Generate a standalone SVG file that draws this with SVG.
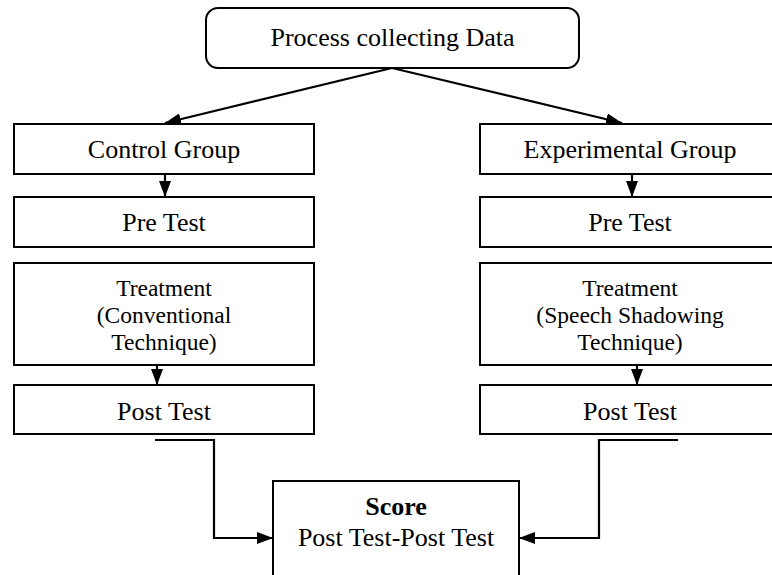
<svg xmlns="http://www.w3.org/2000/svg" width="772" height="575" viewBox="0 0 772 575">
<style>
.box{fill:#fff;stroke:#000;stroke-width:2}
.t{font-family:"Liberation Serif","Times New Roman",serif;font-size:26px;fill:#000;text-anchor:middle}
.s{font-size:23.5px}
.c{fill:none;stroke:#000;stroke-width:2.2}
</style>
<defs>
<marker id="ah" viewBox="0 0 16 12" refX="16" refY="6" markerWidth="16" markerHeight="12" markerUnits="userSpaceOnUse" orient="auto">
<path d="M0,0 L16,6 L0,12 Z" fill="#000"/>
</marker>
</defs>
<rect width="772" height="575" fill="#fff"/>
<g id="connectors">
<path class="c" d="M392,68 L165,123" marker-end="url(#ah)"/>
<path class="c" d="M392,68 L622,123" marker-end="url(#ah)"/>
<path class="c" d="M165,174 L165,197" marker-end="url(#ah)"/>
<path class="c" d="M632,174 L632,197" marker-end="url(#ah)"/>
<path class="c" d="M157,365 L157,385" marker-end="url(#ah)"/>
<path class="c" d="M637,365 L637,385" marker-end="url(#ah)"/>
<path class="c" d="M155,440 L214,440 L214,538 L273,538" marker-end="url(#ah)"/>
<path class="c" d="M678,440 L599,440 L599,538 L519,538" marker-end="url(#ah)"/>
</g>
<g id="process">
<rect class="box" x="206" y="8" width="373" height="60" rx="12"/>
<text class="t" x="392.5" y="46">Process collecting Data</text>
</g>
<g id="control-group">
<rect class="box" x="14" y="124" width="300" height="50"/>
<text class="t" x="164" y="158">Control Group</text>
</g>
<g id="experimental-group">
<rect class="box" x="480" y="124" width="300" height="50"/>
<text class="t" x="630" y="158">Experimental Group</text>
</g>
<g id="control-pretest">
<rect class="box" x="14" y="197" width="300" height="50"/>
<text class="t" x="164" y="231">Pre Test</text>
</g>
<g id="experimental-pretest">
<rect class="box" x="480" y="197" width="300" height="50"/>
<text class="t" x="630" y="231">Pre Test</text>
</g>
<g id="control-treatment">
<rect class="box" x="14" y="263" width="300" height="102"/>
<text class="t s" x="164" y="296">Treatment</text>
<text class="t s" x="164" y="323">(Conventional</text>
<text class="t s" x="164" y="350">Technique)</text>
</g>
<g id="experimental-treatment">
<rect class="box" x="480" y="263" width="300" height="102"/>
<text class="t s" x="630" y="296">Treatment</text>
<text class="t s" x="630" y="323">(Speech Shadowing</text>
<text class="t s" x="630" y="350">Technique)</text>
</g>
<g id="control-posttest">
<rect class="box" x="14" y="385" width="300" height="49"/>
<text class="t" x="164" y="420">Post Test</text>
</g>
<g id="experimental-posttest">
<rect class="box" x="480" y="385" width="300" height="49"/>
<text class="t" x="630" y="420">Post Test</text>
</g>
<g id="score">
<rect class="box" x="273" y="481" width="246" height="110"/>
<text class="t" x="396" y="515" font-size="24" font-weight="bold">Score</text>
<text class="t" x="396" y="546" font-size="24">Post Test-Post Test</text>
</g>
</svg>
